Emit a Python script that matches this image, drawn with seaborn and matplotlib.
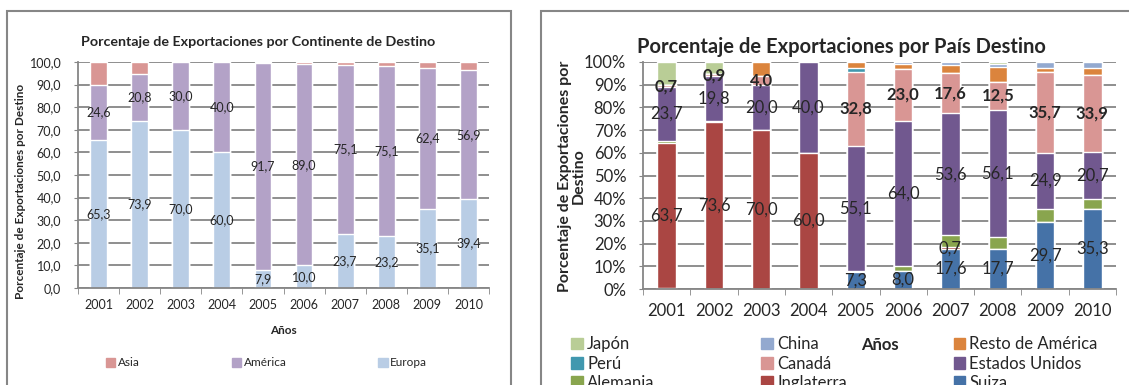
import numpy as np
import matplotlib.pyplot as plt
import seaborn as sns
from matplotlib.patches import Patch, Rectangle
from matplotlib.ticker import FuncFormatter, FixedLocator

anios = ["2001", "2002", "2003", "2004", "2005", "2006", "2007", "2008", "2009", "2010"]

# porcentaje por continente
europa = [65.3, 73.9, 70.0, 60.0, 7.9, 10.0, 23.7, 23.2, 35.1, 39.4]
america = [24.6, 20.8, 30.0, 40.0, 91.7, 89.0, 75.1, 75.1, 62.4, 56.9]
asia = [10.1, 5.3, 0.0, 0.0, 0.4, 1.0, 1.2, 1.7, 2.5, 3.7]

# porcentaje por pais (de abajo hacia arriba)
suiza = [0.6, 0.0, 0.0, 0.0, 7.3, 8.0, 17.6, 17.7, 29.7, 35.3]
inglaterra = [63.7, 73.6, 70.0, 60.0, 0.0, 0.0, 0.7, 0.0, 0.0, 0.0]
alemania = [1.0, 0.4, 0.0, 0.0, 0.6, 2.0, 5.5, 5.1, 5.4, 4.4]
eeuu = [23.7, 19.8, 20.0, 40.0, 55.1, 64.0, 53.6, 56.1, 24.9, 20.7]
canada = [0.7, 0.9, 4.0, 0.0, 32.8, 23.0, 17.6, 12.5, 35.7, 33.9]
peru = [0.0, 0.0, 0.0, 0.0, 1.6, 0.0, 0.0, 0.0, 0.0, 0.0]
resto_america = [0.0, 0.0, 6.0, 0.0, 2.6, 2.0, 3.8, 6.2, 1.8, 2.9]
china = [0.0, 0.0, 0.0, 0.0, 0.0, 1.0, 1.2, 1.5, 2.5, 2.8]
japon = [10.3, 5.3, 0.0, 0.0, 0.0, 0.0, 0.0, 0.8, 0.0, 0.0]

sns.set_style("white")
plt.rcParams["font.family"] = ["Lato", "DejaVu Sans"]

GRIS = "#868686"


def coma(v, dec=1):
    return f"{v:.{dec}f}".replace(".", ",")


def apilar(ax, series, colores, ancho):
    # barras acumuladas, se dibuja primero la mas alta
    acum = np.cumsum(np.array(series), axis=0)
    for i in range(len(series) - 1, -1, -1):
        sns.barplot(x=anios, y=acum[i], color=colores[i], width=ancho,
                    saturation=1, errorbar=None, ax=ax)
    return acum


def estilo_ejes(ax, fs, ypad, xpad):
    ax.set_xlim(-0.5, len(anios) - 0.5)
    ax.set_ylim(0, 100)
    ax.set_yticks(np.arange(0, 101, 10))
    ax.yaxis.grid(True, color=GRIS, lw=1.3)
    ax.set_axisbelow(True)
    for s in ["top", "right"]:
        ax.spines[s].set_visible(False)
    for s in ["left", "bottom"]:
        ax.spines[s].set_color(GRIS)
        ax.spines[s].set_linewidth(1.3)
    ax.tick_params(axis="y", length=3, color=GRIS, labelsize=fs, pad=ypad, left=True)
    ax.tick_params(axis="x", which="major", length=0, labelsize=fs, pad=xpad)
    ax.xaxis.set_minor_locator(FixedLocator(np.arange(-0.5, len(anios), 1)))
    ax.tick_params(axis="x", which="minor", length=4, color=GRIS, bottom=True)
    ax.set_xlabel("")
    ax.set_ylabel("")


fig = plt.figure(figsize=(11.29, 3.85), dpi=100)
W, H = 1129, 385

# marcos de los graficos
fig.add_artist(Rectangle((7 / W, -0.1), 504 / W, 1.1 - 11 / H, transform=fig.transFigure,
                         fill=False, edgecolor=GRIS, lw=1.5))
fig.add_artist(Rectangle((541 / W, -0.1), 0.6, 1.1 - 11 / H, transform=fig.transFigure,
                         fill=False, edgecolor=GRIS, lw=1.5))

# ---------- continente ----------
ax1 = fig.add_axes([78 / W, 1 - 288 / H, 411 / W, 226 / H])
cols1 = ["#B9CDE5", "#B3A2C7", "#D99694"]
acum1 = apilar(ax1, [europa, america, asia], cols1, 0.41)
estilo_ejes(ax1, 9, 9, 8)
ax1.yaxis.set_major_formatter(FuncFormatter(lambda v, p: coma(v)))
for i, serie in enumerate([europa, america]):
    for j, v in enumerate(serie):
        ax1.text(j, acum1[i][j] - v / 2, coma(v), ha="center", va="center", fontsize=9)
fig.text(258 / W, 1 - 42 / H, "Porcentaje de Exportaciones por Continente de Destino",
         ha="center", va="center", fontsize=10.3, fontweight="bold")
fig.text(283 / W, 1 - 330 / H, "Años", ha="center", va="center", fontsize=8.5, fontweight="bold")
fig.text(21 / W, 1 - 191 / H, "Porcentaje de Exportaciones por Destino", rotation=90,
         ha="center", va="center", fontsize=8.5, fontweight="bold")
hand1 = [Patch(color=cols1[2], label="Asia"), Patch(color=cols1[1], label="América"),
         Patch(color=cols1[0], label="Europa")]
fig.legend(handles=hand1, ncol=3, loc="center left", bbox_to_anchor=(100 / W, 1 - 363 / H),
           frameon=False, fontsize=8.5, handlelength=0.8, handleheight=0.8,
           handletextpad=0.2, columnspacing=7.8, borderpad=0)

# ---------- pais ----------
ax2 = fig.add_axes([643 / W, 1 - 289 / H, 473 / W, 227 / H])
nombres = ["Suiza", "Inglaterra", "Alemania", "Estados Unidos", "Canadá", "Perú",
           "Resto de América", "China", "Japón"]
series2 = [suiza, inglaterra, alemania, eeuu, canada, peru, resto_america, china, japon]
cols2 = ["#4572A7", "#AA4643", "#89A54E", "#71588F", "#D99694", "#4198AF",
         "#DB843D", "#93A9CF", "#B9CD96"]
acum2 = apilar(ax2, series2, cols2, 0.39)
estilo_ejes(ax2, 12, 9, 10)
ax2.yaxis.set_major_formatter(FuncFormatter(lambda v, p: f"{int(v)}%"))

sin_etiqueta = {("Suiza", "2001")}
con_etiqueta = ["Suiza", "Inglaterra", "Estados Unidos", "Canadá"]
for i, nom in enumerate(nombres):
    if nom not in con_etiqueta:
        continue
    for j, v in enumerate(series2[i]):
        if v <= 0 or (nom, anios[j]) in sin_etiqueta:
            continue
        ax2.text(j, acum2[i][j] - v / 2, coma(v), ha="center", va="center", fontsize=12,
                 fontweight="bold" if nom == "Canadá" else "normal")
fig.text(841 / W, 1 - 47 / H, "Porcentaje de Exportaciones por País Destino",
         ha="center", va="center", fontsize=14.5, fontweight="bold")
fig.text(880 / W, 1 - 345 / H, "Años", ha="center", va="center", fontsize=12, fontweight="bold")
fig.text(572 / W, 1 - 176 / H, "Porcentaje de Exportaciones por\nDestino", rotation=90,
         ha="center", va="center", fontsize=11.5, fontweight="bold", linespacing=1.0)

# leyenda por filas: Japón, China, Resto / Perú, Canadá, EEUU / Alemania, Inglaterra, Suiza
orden = ["Japón", "Perú", "Alemania", "China", "Canadá", "Inglaterra",
         "Resto de América", "Estados Unidos", "Suiza"]
hand2 = [Patch(color=cols2[nombres.index(n)], label=n) for n in orden]
fig.legend(handles=hand2, ncol=3, loc="upper left", bbox_to_anchor=(563 / W, 1 - 328 / H),
           frameon=False, fontsize=12, handlelength=0.7, handleheight=0.7,
           handletextpad=0.25, columnspacing=6.4, labelspacing=0.2, borderpad=0)

fig.savefig("out.png", dpi=100)
